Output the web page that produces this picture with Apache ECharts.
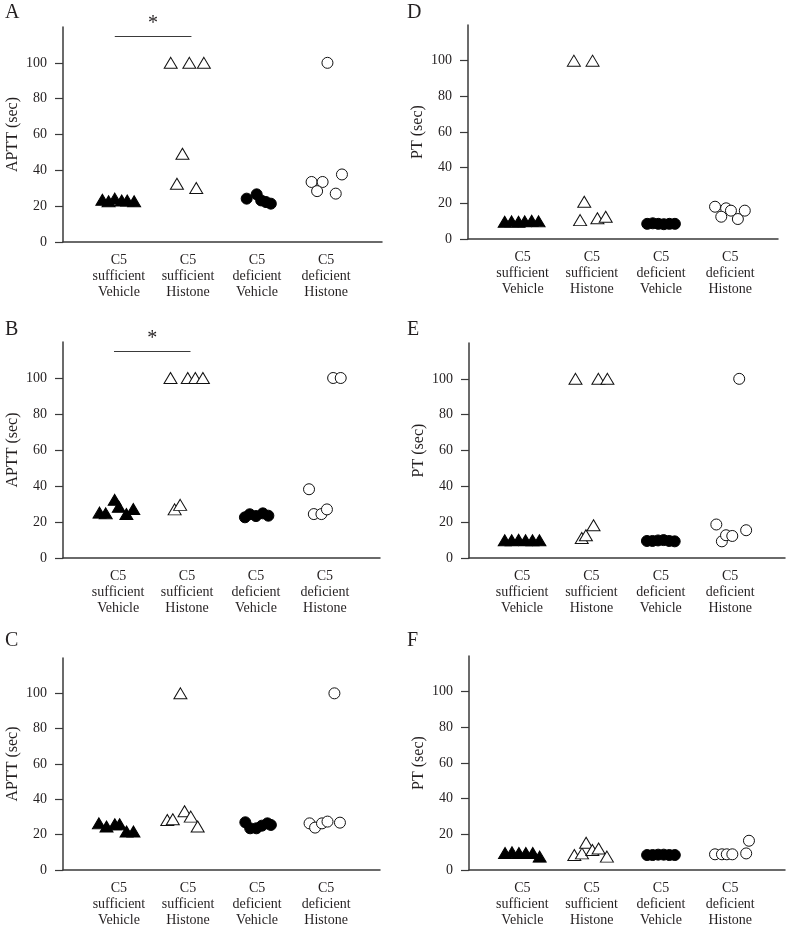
<!DOCTYPE html>
<html>
<head>
<meta charset="utf-8">
<script src="https://cdn.jsdelivr.net/npm/echarts@6/dist/echarts.min.js"></script>
<style>html,body{margin:0;padding:0;background:#fff}#c{width:787px;height:928px}</style>
</head>
<body>
<div id="c"></div>
<script>
// ---- data ----
const groups = ['C5\nsufficient\nVehicle', 'C5\nsufficient\nHistone', 'C5\ndeficient\nVehicle', 'C5\ndeficient\nHistone'];
const yTicks = [0, 20, 40, 60, 80, 100];
const panelLetters = ['A', 'B', 'C', 'D', 'E', 'F'];
const yNames = ['APTT (sec)', 'APTT (sec)', 'APTT (sec)', 'PT (sec)', 'PT (sec)', 'PT (sec)'];

// values per group (sufficient vehicle, sufficient histone, deficient vehicle, deficient histone)
const A_values = [
  [23.6, 22.7, 24.2, 23.2, 23.2, 22.7],
  [100, 100, 100, 49.3, 32.5, 30.1],
  [24.2, 26.6, 23.2, 22.3, 21.4],
  [100, 33.5, 33.5, 28.4, 27.0, 37.7]
];
const A_jitter = [
  [-0.24, -0.15, -0.06, 0.04, 0.12, 0.22],
  [-0.25, 0.02, 0.23, -0.08, -0.16, 0.12],
  [-0.15, -0.005, 0.06, 0.13, 0.2],
  [0.02, -0.21, -0.05, -0.13, 0.14, 0.23]
];
const B_values = [
  [25.2, 24.8, 32.3, 28.5, 24.4, 27.2],
  [100, 100, 100, 100, 27.0, 29.5],
  [22.6, 24.3, 23.3, 24.8, 23.5],
  [100, 100, 38.2, 24.4, 24.4, 27.0]
];
const B_jitter = [
  [-0.27, -0.18, -0.05, 0.01, 0.12, 0.22],
  [-0.24, 0.01, 0.12, 0.23, -0.18, -0.1],
  [-0.16, -0.09, 0.0, 0.1, 0.18],
  [0.12, 0.23, -0.23, -0.16, -0.05, 0.03]
];
const C_values = [
  [26.4, 24.6, 25.9, 25.9, 21.8, 21.8],
  [100, 28.3, 28.7, 33.3, 30.2, 24.6],
  [27.0, 23.6, 23.6, 25.1, 26.4, 25.5],
  [100, 26.4, 24.0, 26.4, 27.4, 26.8]
];
const C_jitter = [
  [-0.29, -0.18, -0.06, 0.01, 0.11, 0.21],
  [-0.11, -0.3, -0.22, -0.05, 0.04, 0.14],
  [-0.17, -0.1, -0.01, 0.07, 0.15, 0.2],
  [0.12, -0.24, -0.16, -0.06, 0.02, 0.2]
];
const D_values = [
  [9.7, 9.9, 9.7, 9.9, 10.2, 9.9],
  [100, 100, 20.9, 10.6, 11.6, 12.5],
  [8.5, 8.8, 8.5, 8.3, 8.5, 8.5],
  [18.1, 17.2, 12.5, 15.9, 11.2, 15.9]
];
const D_jitter = [
  [-0.26, -0.16, -0.06, 0.03, 0.13, 0.23],
  [-0.26, 0.01, -0.11, -0.17, 0.08, 0.2],
  [-0.2, -0.12, -0.04, 0.04, 0.12, 0.2],
  [-0.22, -0.06, -0.13, 0.01, 0.11, 0.21]
];
const E_values = [
  [9.9, 9.9, 10.2, 9.9, 9.9, 9.9],
  [100, 100, 100, 11.2, 12.7, 18.3],
  [9.5, 9.5, 9.8, 10.0, 9.5, 9.3],
  [100, 18.7, 9.3, 12.7, 12.3, 15.5]
];
const E_jitter = [
  [-0.25, -0.15, -0.05, 0.05, 0.15, 0.25],
  [-0.23, 0.1, 0.23, -0.14, -0.08, 0.03],
  [-0.2, -0.12, -0.04, 0.04, 0.12, 0.2],
  [0.13, -0.2, -0.12, -0.06, 0.03, 0.23]
];
const F_values = [
  [9.5, 10.0, 9.5, 9.5, 9.5, 7.5],
  [8.4, 9.3, 15.3, 11.2, 12.1, 7.5],
  [8.4, 8.4, 8.6, 8.6, 8.4, 8.4],
  [8.8, 8.8, 8.8, 8.8, 16.4, 9.3]
];
const F_jitter = [
  [-0.25, -0.15, -0.05, 0.05, 0.15, 0.25],
  [-0.25, -0.14, -0.08, 0.01, 0.1, 0.22],
  [-0.2, -0.12, -0.04, 0.04, 0.12, 0.2],
  [-0.22, -0.12, -0.05, 0.03, 0.27, 0.23]
];
// significance bars: [fromX, toX, height, label]
const A_sig = [0.94, 2.05, 115, '*'];
const B_sig = [0.94, 2.05, 115, '*'];

// ---- layout ----
const panels = [
  {values: A_values, jitter: A_jitter, sig: A_sig, left: 63, top: 27, width: 319, height: 215, xmin: 0.19, xmax: 4.81},
  {values: B_values, jitter: B_jitter, sig: B_sig, left: 63, top: 342, width: 317, height: 216, xmin: 0.20, xmax: 4.80},
  {values: C_values, jitter: C_jitter, sig: null, left: 63, top: 658, width: 317, height: 214, xmin: 0.19, xmax: 4.78},
  {values: D_values, jitter: D_jitter, sig: null, left: 468, top: 25, width: 310, height: 214, xmin: 0.21, xmax: 4.69},
  {values: E_values, jitter: E_jitter, sig: null, left: 469, top: 343, width: 316, height: 215, xmin: 0.235, xmax: 4.79},
  {values: F_values, jitter: F_jitter, sig: null, left: 469, top: 656, width: 316, height: 214, xmin: 0.23, xmax: 4.79}
];
const letterPos = [[5, 3], [5, 320], [5, 631], [407, 3], [407, 320], [407, 631]];

const FONT = 'Liberation Serif';
const INK = '#231f20';
const AX = '#3a3a3a';
const symbolStyles = [
  {symbol: 'triangle', symbolSize: [13, 11], itemStyle: {color: '#000', borderColor: '#000', borderWidth: 1, opacity: 1}},
  {symbol: 'triangle', symbolSize: [13, 11], itemStyle: {color: '#fff', borderColor: '#111', borderWidth: 1, opacity: 1}},
  {symbol: 'circle', symbolSize: 11, itemStyle: {color: '#000', borderColor: '#000', borderWidth: 1, opacity: 1}},
  {symbol: 'circle', symbolSize: 11, itemStyle: {color: '#fff', borderColor: '#111', borderWidth: 1, opacity: 1}}
];

const grid = [], xAxis = [], yAxis = [], series = [], graphic = [];
panels.forEach((p, i) => {
  grid.push({left: p.left, top: p.top, width: p.width, height: p.height, containLabel: false});
  xAxis.push({
    type: 'value', gridIndex: i, min: p.xmin, max: p.xmax,
    splitLine: {show: false},
    axisLine: {show: true, onZero: false, lineStyle: {color: AX, width: 1.5}},
    axisTick: {show: false},
    axisLabel: {
      customValues: [1, 2, 3, 4],
      formatter: v => groups[Math.round(v) - 1] || '',
      fontFamily: FONT, fontSize: 14, lineHeight: 16, color: INK, margin: 10
    }
  });
  yAxis.push({
    type: 'value', gridIndex: i, min: 0, max: 120,
    splitLine: {show: false},
    axisLine: {show: true, onZero: false, lineStyle: {color: AX, width: 1.5}},
    axisTick: {show: true, length: 8, customValues: yTicks, lineStyle: {color: AX, width: 1.2}},
    axisLabel: {customValues: yTicks, fontFamily: FONT, fontSize: 14, color: INK, margin: 16},
    name: yNames[i], nameLocation: 'middle', nameGap: 42,
    nameTextStyle: {fontFamily: FONT, fontSize: 16, color: INK}
  });
  p.values.forEach((vals, g) => {
    const s = Object.assign({
      type: 'scatter', xAxisIndex: i, yAxisIndex: i, z: 2 + (g % 2),
      data: vals.map((v, k) => [g + 1 + p.jitter[g][k], v]),
      silent: true
    }, symbolStyles[g]);
    if (g === 0 && p.sig) {
      s.markLine = {
        silent: true, symbol: 'none',
        lineStyle: {color: AX, width: 1.2, type: 'solid', opacity: 1},
        label: {show: true, position: 'insideMiddleTop', formatter: p.sig[3], fontFamily: FONT, fontSize: 20, color: INK, distance: 2},
        data: [[{coord: [p.sig[0], p.sig[2]]}, {coord: [p.sig[1], p.sig[2]]}]]
      };
    }
    series.push(s);
  });
  graphic.push({type: 'text', left: letterPos[i][0], top: letterPos[i][1],
    style: {text: panelLetters[i], font: '20px "Liberation Serif"', fill: INK}});
});

const chart = echarts.init(document.getElementById('c'), null, {renderer: 'canvas'});
chart.setOption({animation: false, backgroundColor: '#fff', grid, xAxis, yAxis, series, graphic});
</script>
</body>
</html>
